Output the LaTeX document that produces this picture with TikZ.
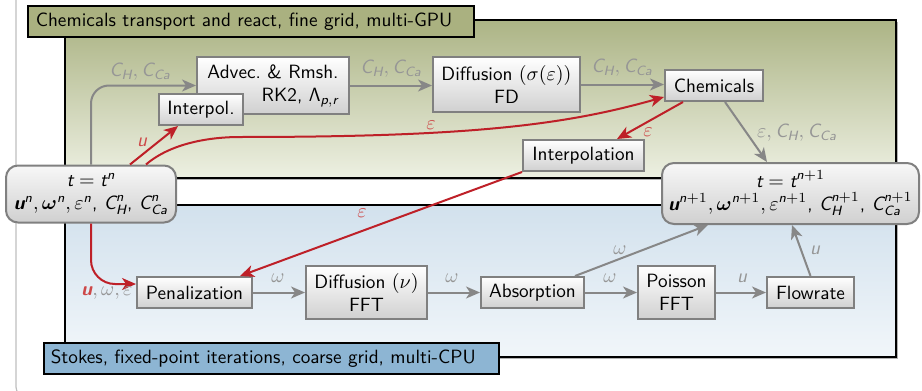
\documentclass[tikz,border=0pt]{standalone}
\usepackage{amsmath}
\usepackage{bm}
\usepackage{fontspec}
\usetikzlibrary{arrows.meta,calc}

\definecolor{edgegray}{RGB}{135,135,135}
\definecolor{labgray}{RGB}{150,150,150}
\definecolor{edgered}{RGB}{190,32,40}
\definecolor{labred}{RGB}{205,72,72}
\definecolor{gpuband}{RGB}{170,177,128}
\definecolor{gputop}{RGB}{172,180,133}
\definecolor{gpubot}{RGB}{237,240,226}
\definecolor{cpuband}{RGB}{141,181,211}
\definecolor{cputop}{RGB}{210,225,237}
\definecolor{cpubot}{RGB}{241,246,250}
\definecolor{boxline}{RGB}{128,128,128}
\definecolor{boxbot}{RGB}{208,208,208}
\definecolor{framegray}{RGB}{190,190,190}

% sans slanted variables inside math
\newcommand{\sv}[1]{\text{\slshape #1}}
\newcommand{\bfu}{\text{\bfseries\slshape u}}
\newcommand{\CH}{\sv{C}_{\sv{H}}}
\newcommand{\CCa}{\sv{C}_{\sv{Ca}}}

\tikzset{
  proc/.style={draw=boxline, line width=1pt, top color=white, bottom color=boxbot,
    inner xsep=2pt, inner ysep=2pt, minimum height=15.5pt, align=center},
  state/.style={proc, rounded corners=6pt, top color=white!97!black, bottom color=boxbot},
  garrow/.style={draw=edgegray, line width=1pt, -{Stealth[length=7pt,width=6pt,inset=2pt]}},
  rarrow/.style={garrow, draw=edgered},
  glab/.style={text=labgray, inner sep=1pt},
  rlab/.style={text=labred, inner sep=1pt},
  panel/.style={draw=black, line width=0.8pt},
  band/.style={draw=black, line width=0.8pt, anchor=north west, align=left, inner ysep=0pt, minimum height=15.5pt},
}

\begin{document}
\sffamily\fontsize{9.6}{11.5}\selectfont
\begin{tikzpicture}[x=0.5pt, y=-0.5pt]
\useasboundingbox (0,0) rectangle (922,391);
\clip (0,0) rectangle (922,391);

% outer frame
\draw[framegray, line width=0.6pt, rounded corners=5pt] (16,-20) rectangle (960,397);

% GPU panel
\fill[gray!60] (67,22) rectangle (898,180);
\shade[top color=gputop, bottom color=gpubot] (65,20) rectangle (896,178);
\draw[panel] (65,20) rectangle (896,178);
\node[band, fill=gpuband, text width=215pt, inner xsep=4pt] (gpulab) at (27,5)
  {Chemicals transport and react, fine grid, multi-GPU};

% CPU panel
\fill[gray!60] (67,207) rectangle (898,359);
\shade[top color=cputop, bottom color=cpubot] (65,205) rectangle (896,357);
\draw[panel] (65,205) rectangle (896,357);
\node[band, fill=cpuband, text width=220.5pt, inner xsep=3.5pt] (cpulab) at (43,342)
  {Stokes, fixed-point iterations, coarse grid, multi-CPU};

% states
\node[state, minimum width=85pt, minimum height=28.5pt] (tn) at (91,194)
  {$\sv{t} = \sv{t}^{\sv{n}}$\\ $\bfu^{\sv{n}},\boldsymbol{\omega}^{\sv{n}},\varepsilon^{\sv{n}}$, $\CH^{\sv{n}}$, $\CCa^{\sv{n}}$};
\node[state, minimum width=128.5pt, minimum height=30.5pt] (tn1) at (790.5,193.5)
  {$\sv{t} = \sv{t}^{\sv{n}+1}$\\ $\bfu^{\sv{n}+1},\boldsymbol{\omega}^{\sv{n}+1},\varepsilon^{\sv{n}+1}$, $\CH^{\sv{n}+1}$, $\CCa^{\sv{n}+1}$};

% chemistry steps
\node[proc, minimum width=76pt, minimum height=28.5pt, align=right] (advec) at (273,85.5)
  {Advec.\ \& Rmsh.\\ RK2, $\text{Λ}_{\sv{p},\sv{r}}$};
\node[proc, minimum width=42pt] (ipol) at (201,109.5) {Interpol.};
\node[proc, minimum width=73.5pt, minimum height=27.5pt] (dfd) at (506.5,84.5)
  {Diffusion $(\sigma(\varepsilon))$\\ FD};
\node[proc, minimum width=49pt] (chem) at (714,85.5) {Chemicals};
\node[proc, minimum width=60.5pt] (interp) at (583.5,155.5) {Interpolation};

% flow steps
\node[proc, minimum width=57.5pt] (pen) at (194.5,292.5) {Penalization};
\node[proc, minimum width=60.5pt, minimum height=26.5pt] (dnu) at (366.5,292.5)
  {Diffusion $(\nu)$\\ FFT};
\node[proc, minimum width=51.5pt] (abs) at (532.5,292.5) {Absorption};
\node[proc, minimum width=38.5pt, minimum height=26.5pt] (poi) at (676.5,292.5)
  {Poisson\\ FFT};
\node[proc, minimum width=43.5pt] (flow) at (810.5,292.5) {Flowrate};

% gray connectors
\draw[garrow, rounded corners=9pt] (tn.north) |- (advec.west);
\node[glab] (l1) at (140,72) {$\CH,\CCa$};
\draw[garrow] (advec.east) -- (advec.east -| dfd.west);
\node[glab] (l2) at (391,69) {$\CH,\CCa$};
\draw[garrow] (dfd.east) -- (dfd.east -| chem.west);
\node[glab] (l3) at (622,68) {$\CH,\CCa$};
\draw[garrow] ($(chem.south)+(11,0)$) -- ($(tn1.north)+(-23.5,0)$);
\node[glab] (l4) at (797,133) {$\varepsilon,\CH,\CCa$};

\draw[garrow] (pen) -- (dnu);
\node[glab] (l5) at (278,278) {$\omega$};
\draw[garrow] (dnu) -- (abs);
\node[glab] (l6) at (452,278) {$\omega$};
\draw[garrow] (abs) -- (poi);
\node[glab] (l7) at (610,278) {$\omega$};
\draw[garrow] (poi) -- (flow);
\node[glab] (l8) at (742,278) {$\sv{u}$};
\draw[garrow] ($(abs.north)+(42.5,0)$) -- ($(tn1.south)+(-82.5,0)$);
\node[glab] (l9) at (620,250) {$\omega$};
\draw[garrow] (flow.north) -- ($(tn1.south)+(1.5,0)$);
\node[glab] (l10) at (815,250) {$\sv{u}$};

% red connectors
\draw[rarrow] ($(tn.north)+(39,0)$) -- ($(ipol.south)+(-23,0)$);
\node[rlab] (l11) at (142,142) {$\sv{u}$};
\coordinate (bend) at (240,137);
\draw[rarrow] ($(tn.north)+(55,0)$) .. controls (171,143) and (210,137) .. (bend)
  .. controls (470,137) and (565,125) .. ($(chem.west)+(0,11.5)$);
\node[rlab] (l12) at (431,125) {$\varepsilon$};
\draw[rarrow] ($(chem.south)+(-31,0)$) -- ($(interp.north)+(33.5,0)$);
\node[rlab] (l13) at (648,132) {$\varepsilon$};
\draw[rarrow] (interp.south west) -- ($(pen.north)+(45.5,0)$);
\node[rlab] (l14) at (362,213) {$\varepsilon$};
\draw[rarrow, rounded corners=12pt] (tn.south) |- ($(pen.west)+(0,-8.5)$);
\node[inner sep=1pt] (l15) at (107,293)
  {$\textcolor{labred}{\bfu}\textcolor{labgray}{,\omega,\varepsilon}$};
\end{tikzpicture}
\end{document}
